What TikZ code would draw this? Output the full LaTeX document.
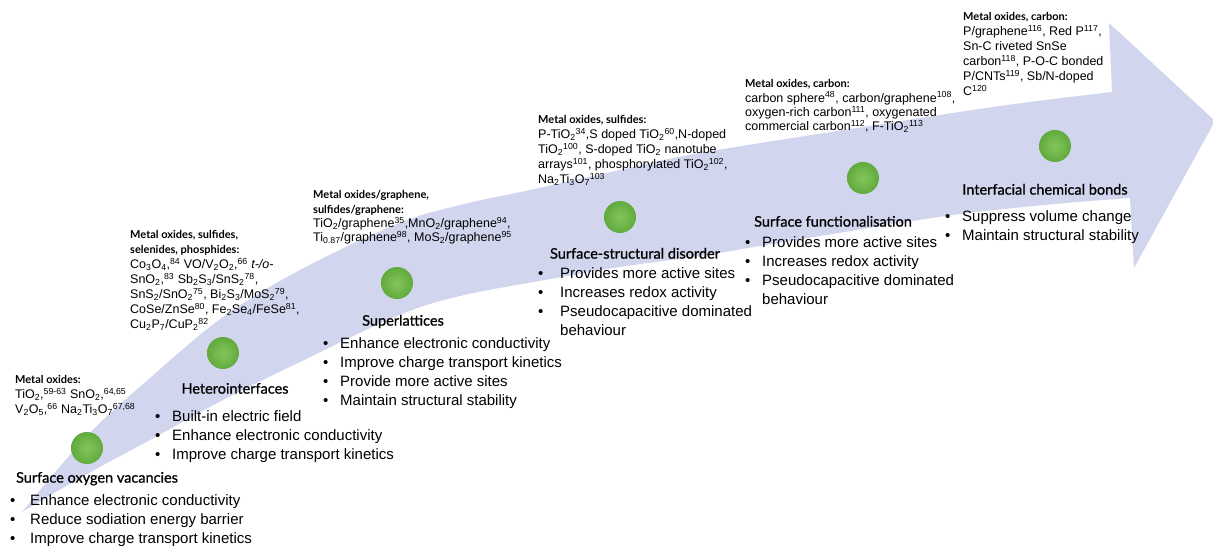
\documentclass[tikz,border=0pt]{standalone}
\usepackage{fontspec}
\setmainfont{Liberation Sans}
\newfontfamily\gillfont{Lato}
\newfontfamily\gilltitle[FakeBold=0.9]{Lato}
\definecolor{bandblue}{RGB}{209,214,238}
\definecolor{dotin}{RGB}{130,198,90}
\definecolor{dotout}{RGB}{98,170,62}
\newcommand{\hdr}[1]{{\gillfont\bfseries\fontsize{11}{15}\selectfont #1}}
\newcommand{\sbs}[1]{\textsubscript{#1}}
\newcommand{\sps}[1]{\textsuperscript{#1}}
\newcommand{\bitem}[1]{\makebox[#1][l]{\textbullet}}
\begin{document}
\begin{tikzpicture}[x=1pt,y=-1pt,
  greendot/.style={circle, minimum size=32pt, inner sep=0pt, inner color=dotin, outer color=dotout},
  reftext/.style={anchor=north west, inner sep=0pt, align=left, font=\fontsize{12.5}{15}\selectfont},
  reftight/.style={reftext, font=\fontsize{12.5}{14.3}\selectfont},
  ttl/.style={anchor=mid, inner sep=0pt, font=\gilltitle\fontsize{14.5}{17}\selectfont},
  blist/.style={anchor=north west, inner sep=0pt, align=left, font=\fontsize{15}{19.2}\selectfont}]
\useasboundingbox (0,0) rectangle (1213,546);
\fill[white] (0,0) rectangle (1213,546);
% curved arrow band
\fill[bandblue] plot[smooth, tension=0.6] coordinates {(22,512) (87,436) (150,378) (223,317) (300,270) (397,224) (460,205) (530,190) (620,170) (700,153) (863,127) (1000,106) (1112,92)}
  -- (1109,23) -- (1215,121) -- (1134,268) -- (1130,198)
  -- plot[smooth, tension=0.6] coordinates {(1130,198) (1055,204) (960,214) (863,229) (760,246) (700,256) (620,267) (545,280) (460,296) (397,316) (300,362) (223,400) (150,440) (87,474) (22,512)} -- cycle;
% dots
\node[greendot] (d1) at (87,448) {};
\node[greendot] (d2) at (223,353) {};
\node[greendot] (d3) at (397,283) {};
\node[greendot] (d4) at (620,217) {};
\node[greendot] (d5) at (863,178) {};
\node[greendot] (d6) at (1055,146) {};
% stage 1
\node[reftext] (r1) at (15,374.7) {\rule{0pt}{9pt}\hdr{Metal oxides:}\\
TiO\sbs{2},\sps{59-63} SnO\sbs{2},\sps{64,65}\\
V\sbs{2}O\sbs{5},\sps{66} Na\sbs{2}Ti\sbs{3}O\sbs{7}\sps{67,68}};
\node[ttl] (t1) at (97,480) {Surface oxygen vacancies};
\node[blist] (b1) at (10,493) {\rule{0pt}{12pt}\bitem{20pt}Enhance electronic conductivity\\
\bitem{20pt}Reduce sodiation energy barrier\\
\bitem{20pt}Improve charge transport kinetics};
% stage 2
\node[reftext] (r2) at (130,229.7) {\rule{0pt}{9pt}\hdr{Metal oxides, sulfides,}\\
\hdr{selenides, phosphides:}\\
Co\sbs{3}O\sbs{4},\sps{84} VO/V\sbs{2}O\sbs{2},\sps{66} \textit{t-/o-}\\
SnO\sbs{2},\sps{83} Sb\sbs{2}S\sbs{3}/SnS\sbs{2}\sps{78},\\
SnS\sbs{2}/SnO\sbs{2}\sps{75}, Bi\sbs{2}S\sbs{3}/MoS\sbs{2}\sps{79},\\
CoSe/ZnSe\sps{80}, Fe\sbs{2}Se\sbs{4}/FeSe\sps{81},\\
Cu\sbs{2}P\sbs{7}/CuP\sbs{2}\sps{82}};
\node[ttl] (t2) at (235,391) {Heterointerfaces};
\node[blist] (b2) at (155,409) {\rule{0pt}{12pt}\bitem{17pt}Built-in electric field\\
\bitem{17pt}Enhance electronic conductivity\\
\bitem{17pt}Improve charge transport kinetics};
% stage 3
\node[reftight] (r3) at (313,189.7) {\rule{0pt}{9pt}\hdr{Metal oxides/graphene,}\\
\hdr{sulfides/graphene:}\\
TiO\sbs{2}/graphene\sps{35},MnO\sbs{2}/graphene\sps{94},\\
Ti\sbs{0.87}/graphene\sps{98}, MoS\sbs{2}/graphene\sps{95}};
\node[ttl] (t3) at (403,323) {Superlattices};
\node[blist] (b3) at (323,336) {\rule{0pt}{12pt}\bitem{17pt}Enhance electronic conductivity\\
\bitem{17pt}Improve charge transport kinetics\\
\bitem{17pt}Provide more active sites\\
\bitem{17pt}Maintain structural stability};
% stage 4
\node[reftext] (r4) at (538,114.7) {\rule{0pt}{9pt}\hdr{Metal oxides, sulfides:}\\
P-TiO\sbs{2}\sps{34},S doped TiO\sbs{2}\sps{60},N-doped\\
TiO\sbs{2}\sps{100}, S-doped TiO\sbs{2} nanotube\\
arrays\sps{101}, phosphorylated TiO\sbs{2}\sps{102},\\
Na\sbs{2}Ti\sbs{3}O\sbs{7}\sps{103}};
\node[ttl] (t4) at (635,256) {Surface-structural disorder};
\node[blist] (b4) at (538,266) {\rule{0pt}{12pt}\bitem{22pt}Provides more active sites\\
\bitem{22pt}Increases redox activity\\
\bitem{22pt}Pseudocapacitive dominated\\
\hspace*{22pt}behaviour};
% stage 5
\node[reftight] (r5) at (745,78.7) {\rule{0pt}{9pt}\hdr{Metal oxides, carbon:}\\
carbon sphere\sps{48}, carbon/graphene\sps{108},\\
oxygen-rich carbon\sps{111}, oxygenated\\
commercial carbon\sps{112}, F-TiO\sbs{2}\sps{113}};
\node[ttl] (t5) at (833,224) {Surface functionalisation};
\node[blist] (b5) at (745,235) {\rule{0pt}{12pt}\bitem{17pt}Provides more active sites\\
\bitem{17pt}Increases redox activity\\
\bitem{17pt}Pseudocapacitive dominated\\
\hspace*{17pt}behaviour};
% stage 6
\node[reftext] (r6) at (963,11.7) {\rule{0pt}{9pt}\hdr{Metal oxides, carbon:}\\
P/graphene\sps{116}, Red P\sps{117},\\
Sn-C riveted SnSe\\
carbon\sps{118}, P-O-C bonded\\
P/CNTs\sps{119}, Sb/N-doped\\
C\sps{120}};
\node[ttl] (t6) at (1045,192) {Interfacial chemical bonds};
\node[blist] (b6) at (945,209) {\rule{0pt}{12pt}\bitem{17pt}Suppress volume change\\
\bitem{17pt}Maintain structural stability};
\end{tikzpicture}
\end{document}
